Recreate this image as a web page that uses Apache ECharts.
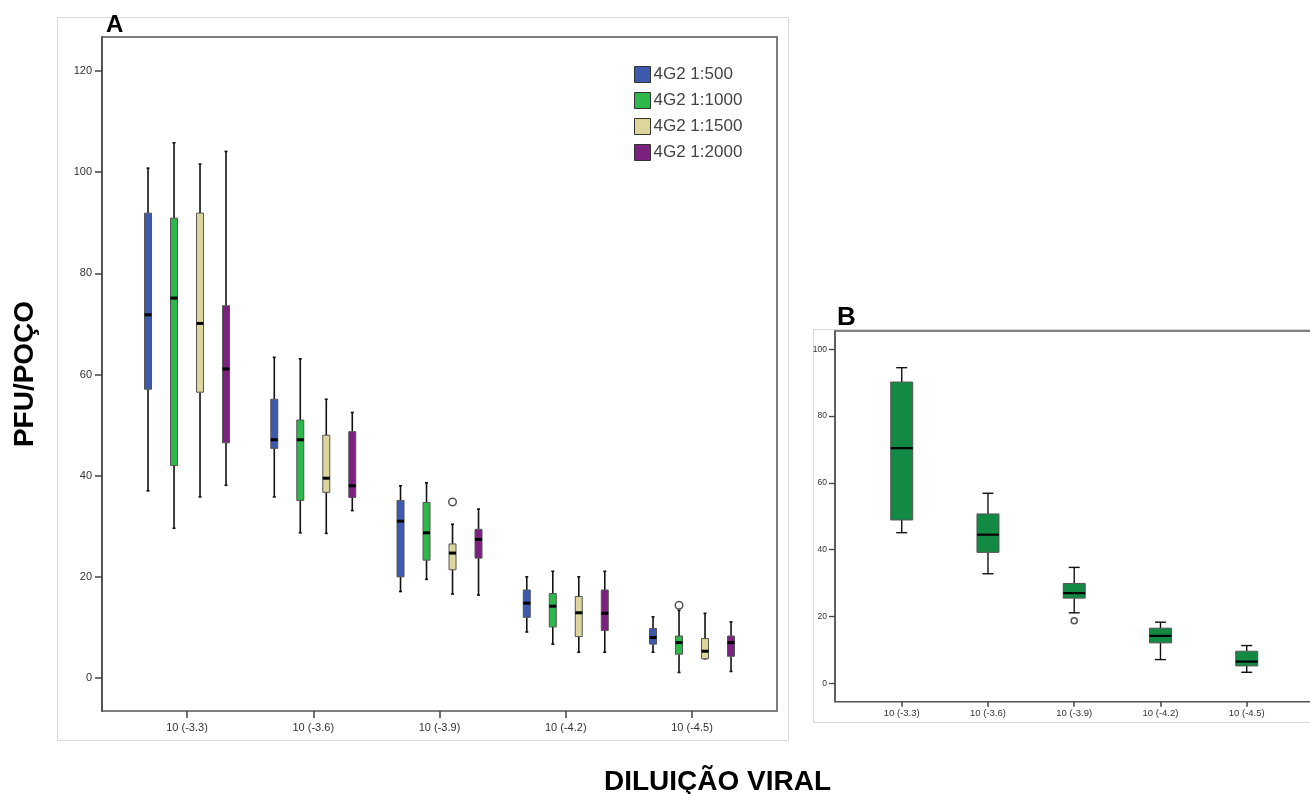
<!DOCTYPE html>
<html>
<head>
<meta charset="utf-8">
<script src="https://cdn.jsdelivr.net/npm/echarts@6/dist/echarts.min.js"></script>
<style>
html,body{margin:0;padding:0;background:#fff;}
#c{width:1310px;height:794px;}
</style>
</head>
<body>
<div id="c"></div>
<script>
// ---- data ----
const categories = ['10 (-3.3)', '10 (-3.6)', '10 (-3.9)', '10 (-4.2)', '10 (-4.5)'];
const seriesNames = ['4G2 1:500', '4G2 1:1000', '4G2 1:1500', '4G2 1:2000'];
const yTicksA = [0, 20, 40, 60, 80, 100, 120];
const yTicksB = [0, 20, 40, 60, 80, 100];
// [min, q1, median, q3, max] per category
const s500  = [[37.0,57.1,71.8,91.9,100.8],[35.8,45.4,47.1,55.1,63.4],[17.1,20.0,31.0,35.1,38.0],[9.1,12.0,14.8,17.4,20.0],[5.1,6.7,8.0,9.8,12.1]];
const s1000 = [[29.6,42.0,75.1,90.9,105.8],[28.7,35.1,47.1,51.0,63.1],[19.5,23.3,28.7,34.7,38.6],[6.7,10.1,14.2,16.7,21.1],[1.1,4.7,7.0,8.3,13.4]];
const s1500 = [[35.8,56.5,70.1,91.9,101.6],[28.6,36.7,39.5,48.0,55.1],[16.6,21.4,24.7,26.5,30.4],[5.1,8.2,12.9,16.1,20.0],[3.8,3.8,5.3,7.8,12.8]];
const s2000 = [[38.1,46.5,61.1,73.6,104.1],[33.1,35.7,38.0,48.7,52.5],[16.4,23.7,27.4,29.4,33.4],[5.1,9.4,12.8,17.4,21.1],[1.3,4.3,7.0,8.3,11.1]];
// [category index, series index, value]
const outliersA = [[2, 2, 34.8], [4, 1, 14.4]];
const seriesB = [[45.1,48.9,70.4,90.2,94.5],[32.8,39.2,44.5,50.7,56.9],[21.1,25.5,27.0,29.9,34.7],[7.1,12.1,14.2,16.5,18.3],[3.3,5.2,6.5,9.6,11.3]];
// [category index, value]
const outliersB = [[2, 18.7]];

const colorsA = ['#3d5aad', '#2db84b', '#ddd69c', '#7c2180'];
const colorB = '#138a44';
const FONT = 'Liberation Sans, Arial, sans-serif';

function boxRenderer(offset, boxW, capW, medW, whiskW) {
  return function (params, api) {
    const cat = api.value(0);
    const pMin = api.coord([cat, api.value(1)]);
    const pQ1 = api.coord([cat, api.value(2)]);
    const pMed = api.coord([cat, api.value(3)]);
    const pQ3 = api.coord([cat, api.value(4)]);
    const pMax = api.coord([cat, api.value(5)]);
    const x = pMin[0] + offset;
    const fill = api.visual('color');
    const lineStyle = { stroke: '#111', lineWidth: whiskW };
    return {
      type: 'group',
      children: [
        { type: 'line', shape: { x1: x, y1: pMax[1], x2: x, y2: pQ3[1] }, style: lineStyle },
        { type: 'line', shape: { x1: x, y1: pQ1[1], x2: x, y2: pMin[1] }, style: lineStyle },
        { type: 'line', shape: { x1: x - capW / 2, y1: pMax[1], x2: x + capW / 2, y2: pMax[1] }, style: lineStyle },
        { type: 'line', shape: { x1: x - capW / 2, y1: pMin[1], x2: x + capW / 2, y2: pMin[1] }, style: lineStyle },
        { type: 'rect', shape: { x: x - boxW / 2, y: pQ3[1], width: boxW, height: pQ1[1] - pQ3[1] },
          style: { fill: fill, stroke: '#555', lineWidth: 1 } },
        { type: 'line', shape: { x1: x - boxW / 2, y1: pMed[1], x2: x + boxW / 2, y2: pMed[1] },
          style: { stroke: '#000', lineWidth: medW } }
      ]
    };
  };
}

function outlierRenderer(offsets, r) {
  return function (params, api) {
    const p = api.coord([api.value(0), api.value(2)]);
    const off = offsets[api.value(1)];
    return { type: 'circle', shape: { cx: p[0] + off, cy: p[1], r: r },
      style: { fill: '#fff', stroke: '#555', lineWidth: 1.5 } };
  };
}

const offsetsA = [-39, -13, 13, 39];
const allA = [s500, s1000, s1500, s2000];

const series = [];
allA.forEach(function (arr, si) {
  series.push({
    type: 'custom',
    name: seriesNames[si],
    xAxisIndex: 1, yAxisIndex: 1,
    itemStyle: { color: colorsA[si] },
    data: arr.map(function (d, i) { return [i].concat(d); }),
    encode: { x: 0, y: [1, 2, 3, 4, 5] },
    renderItem: boxRenderer(offsetsA[si], 7, 3, 3, 1.6),
    z: 3
  });
});
series.push({
  type: 'custom', name: 'outA', xAxisIndex: 1, yAxisIndex: 1,
  data: outliersA, encode: { x: 0, y: 2 },
  renderItem: outlierRenderer(offsetsA, 3.8), z: 4
});
series.push({
  type: 'custom', name: 'B', xAxisIndex: 3, yAxisIndex: 3,
  itemStyle: { color: colorB },
  data: seriesB.map(function (d, i) { return [i].concat(d); }),
  encode: { x: 0, y: [1, 2, 3, 4, 5] },
  renderItem: boxRenderer(0, 22, 11, 2.2, 1.4), z: 3
});
series.push({
  type: 'custom', name: 'outB', xAxisIndex: 3, yAxisIndex: 3,
  data: outliersB.map(function (d) { return [d[0], 0, d[1]]; }), encode: { x: 0, y: 2 },
  renderItem: outlierRenderer([0], 3), z: 4
});

const A_MIN = -6.52, A_MAX = 126.72;
const B_MIN = -5.51, B_MAX = 105.48;

const option = {
  animation: false,
  backgroundColor: '#fff',
  textStyle: { fontFamily: FONT },
  grid: [
    { left: 102, top: 37, width: 675, height: 674, show: true, borderColor: '#555', borderWidth: 1.5, backgroundColor: 'transparent', outerBoundsMode: 'none', containLabel: false },
    { left: 123.9, top: 37, width: 631.25, height: 674, outerBoundsMode: 'none', containLabel: false },
    { left: 835, top: 331, width: 478, height: 370.7, show: true, borderColor: '#555', borderWidth: 1.5, backgroundColor: 'transparent', outerBoundsMode: 'none', containLabel: false },
    { left: 858.6, top: 331, width: 431.25, height: 370.7, outerBoundsMode: 'none', containLabel: false }
  ],
  xAxis: [
    { type: 'value', gridIndex: 0, show: false, min: 0, max: 1 },
    { type: 'category', gridIndex: 1, data: categories, boundaryGap: true, position: 'bottom',
      axisLine: { show: false, onZero: false },
      axisTick: { show: true, alignWithLabel: true, length: 7, lineStyle: { color: '#444', width: 1.5 } },
      axisLabel: { fontSize: 11, color: '#333', margin: 11, fontFamily: FONT },
      splitLine: { show: false } },
    { type: 'value', gridIndex: 2, show: false, min: 0, max: 1 },
    { type: 'category', gridIndex: 3, data: categories, boundaryGap: true, position: 'bottom',
      axisLine: { show: false, onZero: false },
      axisTick: { show: true, alignWithLabel: true, length: 5, lineStyle: { color: '#444', width: 1.5 } },
      axisLabel: { fontSize: 9.5, color: '#333', margin: 7, fontFamily: FONT },
      splitLine: { show: false } }
  ],
  yAxis: [
    { type: 'value', gridIndex: 0, min: A_MIN, max: A_MAX,
      name: 'PFU/POÇO', nameLocation: 'middle', nameGap: 63, nameRotate: 90,
      nameTextStyle: { fontSize: 28, fontWeight: 'bold', color: '#000', fontFamily: FONT },
      axisLine: { show: true, lineStyle: { color: '#555', width: 2 } },
      axisTick: { show: true, length: 7, customValues: yTicksA, lineStyle: { color: '#444', width: 1.5 } },
      axisLabel: { customValues: yTicksA, fontSize: 11, color: '#333', margin: 10, fontFamily: FONT },
      splitLine: { show: false } },
    { type: 'value', gridIndex: 1, min: A_MIN, max: A_MAX, show: false, splitLine: { show: false } },
    { type: 'value', gridIndex: 2, min: B_MIN, max: B_MAX,
      axisLine: { show: true, lineStyle: { color: '#555', width: 1.5 } },
      axisTick: { show: true, length: 6, customValues: yTicksB, lineStyle: { color: '#444', width: 1.3 } },
      axisLabel: { customValues: yTicksB, fontSize: 8.5, color: '#333', margin: 8, fontFamily: FONT },
      splitLine: { show: false } },
    { type: 'value', gridIndex: 3, min: B_MIN, max: B_MAX, show: false, splitLine: { show: false } }
  ],
  legend: {
    orient: 'vertical', left: 634, top: 66, icon: 'rect',
    itemWidth: 16, itemHeight: 16, itemGap: 9, padding: 0,
    textStyle: { fontSize: 17, color: '#444', fontFamily: FONT, padding: [0, 0, 0, -2] },
    data: seriesNames.map(function (n, i) {
      return { name: n, itemStyle: { color: colorsA[i], borderColor: '#333', borderWidth: 1 } };
    })
  },
  graphic: [
    { type: 'rect', shape: { x: 57.5, y: 17.5, width: 731, height: 723 }, style: { fill: 'none', stroke: '#d9d9d9', lineWidth: 1 }, z: -10 },
    { type: 'rect', shape: { x: 813.5, y: 329.5, width: 520, height: 393 }, style: { fill: 'none', stroke: '#d9d9d9', lineWidth: 1 }, z: -10 },
    { type: 'text', x: 106, y: 25.5, style: { text: 'A', font: 'bold 24px ' + FONT, fill: '#000', align: 'left', verticalAlign: 'middle' } },
    { type: 'text', x: 837, y: 317.5, style: { text: 'B', font: 'bold 26px ' + FONT, fill: '#000', align: 'left', verticalAlign: 'middle' } },
    { type: 'text', x: 717.5, y: 782, style: { text: 'DILUIÇÃO VIRAL', font: 'bold 28px ' + FONT, fill: '#000', align: 'center', verticalAlign: 'middle' } }
  ],
  series: series
};

const chart = echarts.init(document.getElementById('c'), null, { renderer: 'canvas' });
chart.setOption(option);
</script>
</body>
</html>
